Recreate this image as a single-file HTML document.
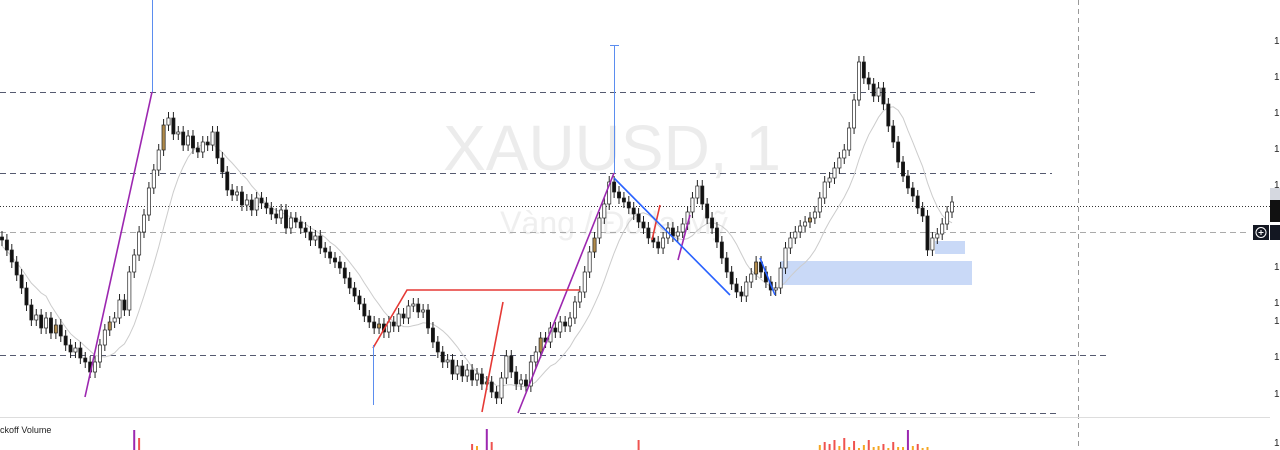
<!DOCTYPE html>
<html><head><meta charset="utf-8"><style>
html,body{margin:0;padding:0;background:#fff;width:1280px;height:450px;overflow:hidden}
svg{display:block;font-family:"Liberation Sans",sans-serif}
</style></head><body>
<svg id="chart" width="1280" height="450" viewBox="0 0 1280 450">
<text x="612" y="170" font-size="64" fill="#ececec" text-anchor="middle">XAUUSD, 1</text>
<text x="614" y="234" font-size="32" fill="#efefef" text-anchor="middle">Vàng / Đô la Mỹ</text>
<g stroke-width="1">
<line x1="0" y1="92.5" x2="1035" y2="92.5" stroke="#555a70" stroke-dasharray="6,4"/>
<line x1="0" y1="173.5" x2="1052" y2="173.5" stroke="#555a70" stroke-dasharray="6,4"/>
<line x1="0" y1="206.5" x2="1270" y2="206.5" stroke="#333" stroke-dasharray="1,2"/>
<line x1="0" y1="232.5" x2="1250" y2="232.5" stroke="#aaa" stroke-dasharray="6,4"/>
<line x1="0" y1="355.5" x2="1110" y2="355.5" stroke="#555a70" stroke-dasharray="6,4"/>
<line x1="520" y1="413.5" x2="1056" y2="413.5" stroke="#555a70" stroke-dasharray="6,4"/>
<line x1="1078.5" y1="0" x2="1078.5" y2="450" stroke="#999" stroke-dasharray="5,4"/>
<line x1="0" y1="417.5" x2="1270" y2="417.5" stroke="#ddd"/>
</g>
<rect x="780" y="261" width="192" height="24" fill="#c9d9f7"/>
<rect x="935" y="241" width="30" height="13" fill="#c9d9f7"/>
<g id="ma"></g>
<g id="candles"></g>
<g id="vol"></g>
<g fill="none" stroke-width="1.6">
<line x1="85" y1="397" x2="152" y2="92" stroke="#9c27b0"/>
<line x1="518" y1="413" x2="614" y2="173" stroke="#9c27b0"/>
<line x1="678" y1="260" x2="690" y2="215" stroke="#9c27b0"/>
<polyline points="373,348 407,290 580,290" stroke="#e53935"/>
<line x1="482" y1="412" x2="503" y2="302" stroke="#e53935"/>
<line x1="652" y1="240" x2="660" y2="205" stroke="#e53935"/>
<line x1="614" y1="178" x2="730" y2="295" stroke="#2962ff"/>
<line x1="760" y1="258" x2="775" y2="295" stroke="#2962ff"/>
</g>
<g stroke="#5b8def" stroke-width="1">
<line x1="152.5" y1="0" x2="152.5" y2="92"/>
<line x1="614.5" y1="45" x2="614.5" y2="173"/><line x1="610" y1="45.5" x2="619" y2="45.5"/>
<line x1="373.5" y1="345" x2="373.5" y2="405"/>
</g>
<text x="0" y="433" font-size="9" fill="#222">ckoff Volume</text>
<g font-size="10" fill="#222">
<text x="1274" y="44">1</text><text x="1274" y="80">1</text><text x="1274" y="116">1</text><text x="1274" y="152">1</text><text x="1274" y="188">1</text>
<rect x="1270" y="188" width="10" height="12" fill="#d5d8e0"/>
<rect x="1270" y="200" width="10" height="22" fill="#111"/>
<rect x="1270" y="225" width="10" height="15" fill="#131722"/>
<text x="1274" y="270">1</text><text x="1274" y="306">1</text><text x="1274" y="324" >1</text><text x="1274" y="360">1</text><text x="1274" y="397">1</text><text x="1274" y="446">1</text>
</g>
<g>
<rect x="1253" y="225" width="16" height="15" fill="#131722"/>
<circle cx="1261" cy="232.5" r="5" fill="none" stroke="#fff"/>
<line x1="1258.5" y1="232.5" x2="1263.5" y2="232.5" stroke="#fff"/><line x1="1261" y1="230" x2="1261" y2="235" stroke="#fff"/>
</g>
</svg>
<script>
const closesY = [240,250,262,275,288,305,320,315,328,318,333,325,336,345,352,348,358,362,372,362,345,330,322,318,300,310,272,255,232,215,188,170,150,125,118,134,132,145,136,148,152,142,145,132,158,172,190,195,192,205,200,210,198,203,208,214,218,210,228,218,222,228,232,240,236,248,252,258,262,268,278,288,296,304,316,322,328,324,332,322,326,314,318,306,304,312,310,328,342,352,362,360,374,366,376,370,380,374,384,382,392,398,378,356,372,384,380,386,362,352,338,342,328,332,322,326,318,302,292,272,252,238,218,204,182,192,198,202,208,214,222,228,238,242,248,238,228,236,232,224,212,198,186,204,218,228,242,258,272,284,292,296,282,274,262,272,282,290,288,268,248,238,232,226,222,218,212,198,182,178,168,158,150,128,100,62,78,84,96,88,104,126,142,162,176,188,196,208,216,250,238,234,224,212,202];
const closes = closesY.map(y => 400 - y);
const volumes = [0,0,0,0,0,0,0,0,0,0,0,0,0,0,0,0,0,0,0,0,0,0,0,0,0,0,0,20,12,0,0,0,0,0,0,0,0,0,0,0,0,0,0,0,0,0,0,0,0,0,0,0,0,0,0,0,0,0,0,0,0,0,0,0,0,0,0,0,0,0,0,0,0,0,0,0,0,0,0,0,0,0,0,0,0,0,0,0,0,0,0,0,0,0,0,0,6,4,0,21,8,0,0,0,0,0,0,0,0,0,0,0,0,0,0,0,0,0,0,0,0,0,0,0,0,0,0,0,0,0,10,0,0,0,0,0,0,0,0,0,0,0,0,0,0,0,0,0,0,0,0,0,0,0,0,0,0,0,0,0,0,0,0,0,0,0,0,5,8,6,10,4,12,3,9,2,5,10,3,4,6,2,8,3,3,20,4,6,2,3,0,0,0,0,0,0];
const NS="http://www.w3.org/2000/svg";
const n=closes.length, x0=2, x1=952;
const xS=i=>x0+i*(x1-x0)/(n-1);
const yS=p=>400-p;
const g=document.getElementById('candles');
const ma=document.getElementById('ma');
const vg=document.getElementById('vol');
let pts=[];
for(let i=0;i<n;i++){
  const c=closes[i], o=i?closes[i-1]:c+3;
  const x=xS(i), top=yS(Math.max(o,c)), bot=yS(Math.min(o,c));
  const w=document.createElementNS(NS,'line');
  
  
  w.setAttribute('x1',x);w.setAttribute('x2',x);w.setAttribute('y1',top-6);w.setAttribute('y2',bot+6);w.setAttribute('stroke','#222');
  g.appendChild(w);
  const r=document.createElementNS(NS,'rect');
  
  
  r.setAttribute('x',x-1.6);r.setAttribute('y',top);r.setAttribute('width',3.2);r.setAttribute('height',Math.max(1,bot-top));
  r.setAttribute('fill',c<o?'#111':(i%11==0?'#b08a4a':'#fff'));r.setAttribute('stroke','#222');r.setAttribute('stroke-width','0.7');
  g.appendChild(r);
  let s=0,k=0;for(let j=Math.max(0,i-9);j<=i;j++){s+=closes[j];k++;}
  pts.push(x+','+(yS(s/k)+6));
  const h=volumes[i]||0;
  if(h>0){
    const v=document.createElementNS(NS,'rect');
    
    
    v.setAttribute('x',x-1);v.setAttribute('y',450-h);v.setAttribute('width',2);v.setAttribute('height',h);
    v.setAttribute('fill',h>15?'#9c27b0':(h>5?'#ef5350':'#f5a623'));
    vg.appendChild(v);
  }
}
const pl=document.createElementNS(NS,'polyline');


pl.setAttribute('points',pts.join(' '));pl.setAttribute('fill','none');pl.setAttribute('stroke','#ccc');
ma.appendChild(pl);
</script>
</body></html>
